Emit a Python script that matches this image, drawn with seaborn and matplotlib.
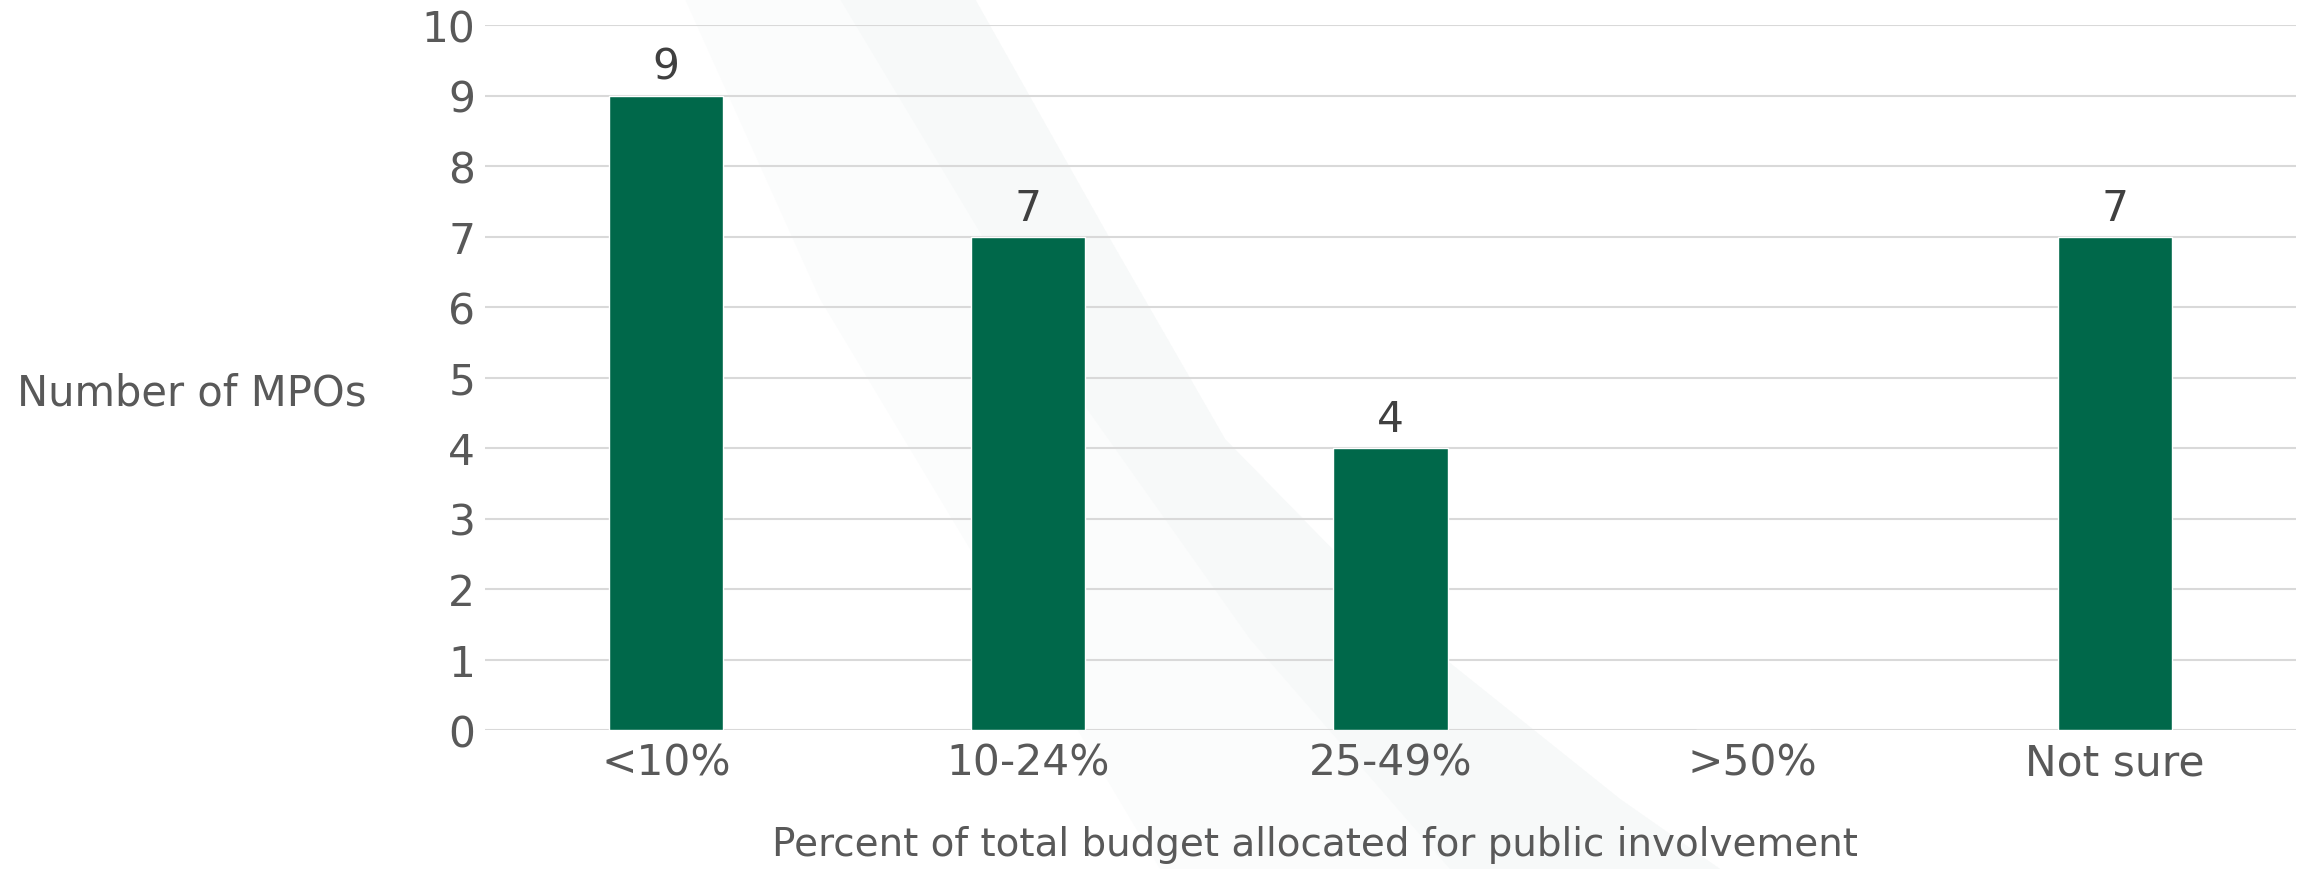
import matplotlib
matplotlib.use("Agg")
import matplotlib.pyplot as plt
from matplotlib.patches import Polygon
import seaborn as sns
import pandas as pd

# Survey results: MPO counts by share of budget spent on public involvement
categories = ["<10%", "10-24%", "25-49%", ">50%", "Not sure"]
counts = [9, 7, 4, 0, 7]
y_ticks = [0, 1, 2, 3, 4, 5, 6, 7, 8, 9, 10]
x_title = "Percent of total budget allocated for public involvement"
y_title = "Number of MPOs"

BAR_COLOR = "#00684A"
TEXT_COLOR = "#595959"
VALUE_COLOR = "#404040"
GRID_COLOR = "#D9D9D9"

W, H, DPI = 2308, 870, 100

sns.set_theme(style="white")
plt.rcParams["font.family"] = ["DejaVu Sans"]

fig = plt.figure(figsize=(W / DPI, H / DPI), dpi=DPI, facecolor="white")

# faint decorative diagonal band behind the plot
def fig_pts(pts):
    return [(x / W, 1 - y / H) for x, y in pts]

outer = Polygon(fig_pts([(685, 0), (975, 0), (1110, 240), (1225, 440),
                         (1420, 640), (1620, 800), (1720, 870),
                         (1160, 870), (1000, 600), (820, 300)]),
                closed=True, transform=fig.transFigure,
                facecolor="#FBFCFC", edgecolor="none", zorder=-2)
inner = Polygon(fig_pts([(840, 0), (975, 0), (1110, 240), (1225, 440),
                         (1420, 640), (1620, 800), (1720, 870),
                         (1450, 870), (1250, 640), (1080, 400), (930, 150)]),
                closed=True, transform=fig.transFigure,
                facecolor="#F7F9F9", edgecolor="none", zorder=-1)
fig.patches.extend([outer, inner])

left, right = 485 / W, 2296 / W
bottom, top = 1 - 731 / H, 1 - 26 / H
ax = fig.add_axes([left, bottom, right - left, top - bottom])
ax.set_zorder(1)
ax.patch.set_alpha(0)

df = pd.DataFrame({"category": categories, "count": counts})
sns.barplot(data=df, x="category", y="count", order=categories,
            color=BAR_COLOR, saturation=1, width=0.315, ax=ax, zorder=3)

ax.set_xlim(-0.5, len(categories) - 0.5)
ax.set_ylim(0, 10)
ax.set_yticks(y_ticks)
ax.yaxis.grid(True, color=GRID_COLOR, linewidth=1.5, zorder=1)
ax.xaxis.grid(False)
ax.set_axisbelow(True)
for s in ax.spines.values():
    s.set_visible(False)

ax.tick_params(axis="y", length=0, pad=7, labelsize=30.5, labelcolor=TEXT_COLOR)
ax.tick_params(axis="x", length=0, pad=8, labelsize=30.5, labelcolor=TEXT_COLOR)

# value labels above non-empty bars
for i, v in enumerate(counts):
    if v > 0:
        ax.annotate(str(v), xy=(i, v), xytext=(0, 12), textcoords="offset points",
                    ha="center", va="baseline", fontsize=30.5, color=VALUE_COLOR)

ax.set_xlabel(x_title, fontsize=28, color=TEXT_COLOR)
ax.xaxis.set_label_coords((1315 - 485) / 1811, (731 - 856) / 705)
ax.xaxis.label.set_verticalalignment("baseline")

ax.set_ylabel(y_title, fontsize=30, color=TEXT_COLOR, rotation=0)
ax.yaxis.set_label_coords((17 - 485) / 1811, (731 - 406) / 705)
ax.yaxis.label.set_horizontalalignment("left")
ax.yaxis.label.set_verticalalignment("baseline")

fig.savefig("out.png", dpi=DPI, facecolor="white")
